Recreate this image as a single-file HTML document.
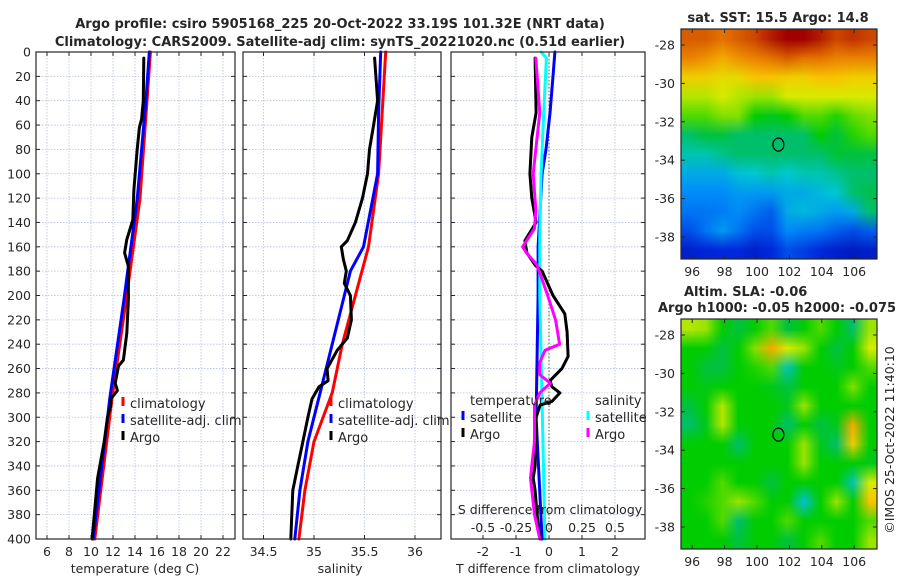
<!DOCTYPE html>
<html><head><meta charset="utf-8"><style>
html,body{margin:0;padding:0;background:#fff;}
#wrap{position:relative;width:900px;height:580px;overflow:hidden;font-family:"DejaVu Sans","Liberation Sans",sans-serif;}
svg{position:absolute;left:0;top:0;}
canvas{position:absolute;}
</style></head><body>
<div id="wrap">
<canvas id="sstMap" width="12" height="12" style="left:681px;top:29px;width:196px;height:230px;"></canvas>
<canvas id="slaMap" width="12" height="12" style="left:681px;top:319px;width:196px;height:230px;"></canvas>
<svg id="fig" width="900" height="580" xmlns="http://www.w3.org/2000/svg"></svg>
</div>
<script>
// ---- data ----
const tClimDepth=[0,39,121,203,285,400];
const tClimVal=[15.4,15.1,14.45,13.2,11.9,10.35];
const tSatDepth=[0,39,121,203,285,400];
const tSatVal=[15.3,15.0,14.2,13.0,11.7,10.2];
const tArgoDepth=[5,40,55,62,80,113,138,154,165,176,203,231,253,258,272,278,285,290,300,320,345,350,380,400];
const tArgoVal=[14.8,14.75,14.6,14.4,14.2,13.9,13.8,13.25,13.05,13.4,13.4,13.25,12.95,12.5,12.2,12.4,11.8,11.8,11.5,11.2,10.7,10.6,10.3,10.1];

const sClimDepth=[0,100,160,200,240,280,320,360,400];
const sClimVal=[35.71,35.64,35.54,35.41,35.28,35.18,35.0,34.91,34.85];
const sSatDepth=[0,50,100,160,180,280,320,360,400];
const sSatVal=[35.66,35.64,35.63,35.49,35.36,35.06,34.94,34.86,34.81];
const sArgoDepth=[5,40,60,80,100,120,140,155,160,170,180,190,200,220,235,245,260,270,275,285,300,320,340,360,380,400];
const sArgoVal=[35.6,35.63,35.59,35.55,35.53,35.48,35.41,35.33,35.27,35.29,35.32,35.3,35.36,35.37,35.33,35.23,35.13,35.14,35.05,34.98,34.94,34.89,34.84,34.79,34.78,34.77];

const dTSatDepth=[0,20,50,80,100,160,200,250,300,350,400];
const dTSatVal=[0.18,0.12,0.03,-0.09,-0.21,-0.33,-0.33,-0.36,-0.39,-0.3,-0.21];
const dSSatDepth=[0,5,50,100,150,200,250,300,350,400];
const dSSatVal=[-0.06,-0.02,-0.04,-0.06,-0.07,-0.07,-0.06,-0.05,-0.04,-0.03];
const dTArgoDepth=[5,50,70,100,120,140,155,165,175,180,200,215,230,250,260,270,275,280,287,290,300,340,350,360,380,400];
const dTArgoVal=[-0.42,-0.39,-0.52,-0.58,-0.52,-0.39,-0.73,-0.67,-0.42,-0.21,0.12,0.48,0.55,0.58,0.39,0.03,0.09,0.33,0.09,-0.27,-0.39,-0.42,-0.48,-0.42,-0.36,-0.27];
const dSArgoDepth=[5,50,80,100,130,145,160,165,175,200,220,240,245,255,265,272,280,290,320,340,350,380,400];
const dSArgoVal=[-0.1,-0.07,-0.1,-0.12,-0.1,-0.11,-0.2,-0.17,-0.09,-0.01,0.05,0.08,-0.03,-0.07,-0.07,0.01,-0.07,-0.11,-0.11,-0.13,-0.14,-0.11,-0.07];

const depthTicks=[0,20,40,60,80,100,120,140,160,180,200,220,240,260,280,300,320,340,360,380,400];
const tTicks=[6,8,10,12,14,16,18,20,22];
const sTicks=[34.5,35,35.5,36];
const dTTicks=[-2,-1,0,1,2];
const dSTicks=[-0.5,-0.25,0,0.25,0.5];
const dSTickLabels=['-0.5','-0.25','0','0.25','0.5'];
const lonTicks=[96,98,100,102,104,106];
const latTicks=[-28,-30,-32,-34,-36,-38];
const argoLon=101.32, argoLat=-33.19;

const sstGrid=[
[0.85,0.85,0.82,0.85,0.88,0.92,0.95,0.95,0.92,0.88,0.9,0.88],
[0.8,0.78,0.75,0.78,0.8,0.82,0.85,0.82,0.82,0.8,0.8,0.8],
[0.7,0.7,0.68,0.68,0.72,0.72,0.7,0.7,0.72,0.72,0.7,0.7],
[0.62,0.62,0.65,0.62,0.6,0.6,0.65,0.65,0.65,0.65,0.65,0.65],
[0.55,0.55,0.58,0.58,0.5,0.48,0.5,0.55,0.55,0.52,0.56,0.58],
[0.42,0.45,0.45,0.42,0.42,0.42,0.42,0.42,0.5,0.45,0.52,0.55],
[0.38,0.38,0.4,0.42,0.42,0.42,0.42,0.42,0.42,0.46,0.45,0.45],
[0.32,0.32,0.32,0.35,0.36,0.38,0.36,0.38,0.38,0.4,0.42,0.42],
[0.28,0.28,0.28,0.3,0.3,0.3,0.32,0.32,0.34,0.36,0.42,0.44],
[0.25,0.25,0.26,0.28,0.25,0.22,0.32,0.34,0.32,0.3,0.32,0.42],
[0.2,0.25,0.3,0.25,0.2,0.2,0.28,0.26,0.25,0.22,0.2,0.22],
[0.12,0.14,0.15,0.15,0.12,0.15,0.2,0.18,0.15,0.12,0.1,0.12]];
const slaGrid=[
[0.62,0.6,0.5,0.45,0.5,0.55,0.45,0.5,0.55,0.5,0.42,0.6],
[0.5,0.5,0.45,0.5,0.58,0.75,0.65,0.6,0.5,0.45,0.5,0.65],
[0.5,0.45,0.45,0.5,0.52,0.55,0.38,0.5,0.5,0.48,0.5,0.55],
[0.5,0.48,0.5,0.5,0.5,0.48,0.45,0.5,0.5,0.5,0.58,0.5],
[0.45,0.5,0.62,0.5,0.5,0.5,0.48,0.6,0.5,0.5,0.5,0.5],
[0.42,0.48,0.62,0.5,0.5,0.5,0.42,0.5,0.45,0.48,0.75,0.5],
[0.5,0.5,0.5,0.42,0.5,0.5,0.5,0.6,0.48,0.42,0.7,0.5],
[0.5,0.5,0.5,0.5,0.5,0.5,0.5,0.6,0.5,0.5,0.5,0.48],
[0.5,0.5,0.55,0.5,0.5,0.45,0.5,0.5,0.5,0.5,0.38,0.65],
[0.5,0.52,0.55,0.6,0.55,0.5,0.5,0.35,0.5,0.6,0.5,0.72],
[0.5,0.5,0.55,0.42,0.5,0.5,0.55,0.5,0.5,0.5,0.5,0.55],
[0.5,0.5,0.5,0.45,0.5,0.5,0.45,0.5,0.55,0.5,0.5,0.6]];

// ---- helpers ----
const NS='http://www.w3.org/2000/svg';
const svg=document.getElementById('fig');
function el(tag,attrs,parent){const e=document.createElementNS(NS,tag);for(const k in attrs)e.setAttribute(k,attrs[k]);(parent||svg).appendChild(e);return e;}
function txt(s,x,y,attrs,name){const t=el('text',Object.assign({x:x,y:y,'font-size':12.5,fill:'#262626'},attrs||{}));t.textContent=s;


return t;}
const Y0=52,Y1=539;
function yD(d){return Y0+d*(Y1-Y0)/400;}

function panel(name,x0,x1,xf,ticks){
  const g=el('g',{});
  
  
  ticks.forEach(v=>{const l=el('line',{x1:xf(v),x2:xf(v),y1:Y0,y2:Y1,stroke:'#b8c0dc','stroke-width':0.8,'stroke-dasharray':'1.5,1.5'},g);
    
    });
  depthTicks.forEach(d=>{const l=el('line',{x1:x0,x2:x1,y1:yD(d),y2:yD(d),stroke:'#b8c0dc','stroke-width':0.8,'stroke-dasharray':'1.5,1.5'},g);
    
    
    el('line',{x1:x0,x2:x0+4,y1:yD(d),y2:yD(d),stroke:'#262626'},g);
    el('line',{x1:x1-4,x2:x1,y1:yD(d),y2:yD(d),stroke:'#262626'},g);});
  ticks.forEach(v=>{el('line',{x1:xf(v),x2:xf(v),y1:Y1-4,y2:Y1,stroke:'#262626'},g);el('line',{x1:xf(v),x2:xf(v),y1:Y0,y2:Y0+4,stroke:'#262626'},g);});
  return g;
}
function frame(name,x0,x1){const r=el('rect',{x:x0,y:Y0,width:x1-x0,height:Y1-Y0,fill:'none',stroke:'#262626','stroke-width':1.2});
  
  }
function series(name,depths,vals,xf,color,w){
  const pts=depths.map((d,i)=>xf(vals[i]).toFixed(1)+','+yD(d).toFixed(1)).join(' ');
  const p=el('polyline',{points:pts,fill:'none',stroke:color,'stroke-width':w||3,'stroke-linejoin':'round','stroke-linecap':'round'});
  
  
}
function legendEntry(name,label,x,y,color){
  const g=el('g',{});
  
  
  el('line',{x1:x,x2:x,y1:y-11,y2:y-2,stroke:color,'stroke-width':3},g);
  const t=el('text',{x:x+7,y:y,'font-size':13,fill:'#262626'},g);t.textContent=label;
}

// ---- panel 1: temperature ----
const xT=v=>47+(v-6)*11;
panel('temperature-panel',36,235,xT,tTicks);
series('temp-climatology-line',tClimDepth,tClimVal,xT,'#ff0000');
series('temp-satellite-line',tSatDepth,tSatVal,xT,'#0000ff');
series('temp-argo-line',tArgoDepth,tArgoVal,xT,'#000000');
frame('temperature-frame',36,235);
depthTicks.forEach(d=>txt(String(d),31,yD(d)+4.5,{'text-anchor':'end'},'depth-tick-label'));
tTicks.forEach(v=>txt(String(v),xT(v),556,{'text-anchor':'middle'},'temp-tick-label'));
txt('temperature (deg C)',135,573,{'text-anchor':'middle'},'temp-axis-title');
legendEntry('legend-climatology','climatology',123,408,'#ff0000');
legendEntry('legend-satellite-adj','satellite-adj. clim',123,425,'#0000ff');
legendEntry('legend-argo','Argo',123,442,'#000000');

// ---- panel 2: salinity ----
const xS=v=>314+(v-35)*101;
panel('salinity-panel',243,441,xS,sTicks);
series('sal-climatology-line',sClimDepth,sClimVal,xS,'#ff0000');
series('sal-satellite-line',sSatDepth,sSatVal,xS,'#0000ff');
series('sal-argo-line',sArgoDepth,sArgoVal,xS,'#000000');
frame('salinity-frame',243,441);
sTicks.forEach(v=>txt(String(v),xS(v),556,{'text-anchor':'middle'},'sal-tick-label'));
txt('salinity',340,573,{'text-anchor':'middle'},'sal-axis-title');
legendEntry('legend-climatology-2','climatology',331,408,'#ff0000');
legendEntry('legend-satellite-adj-2','satellite-adj. clim',331,425,'#0000ff');
legendEntry('legend-argo-2','Argo',331,442,'#000000');

// ---- panel 3: differences ----
const xdT=v=>549+v*33;
const xdS=v=>549+v*132;
panel('difference-panel',451,645,xdT,dTTicks);
const zl=el('line',{x1:xdT(0),x2:xdT(0),y1:Y0,y2:Y1,stroke:'#556b2f','stroke-width':1,'stroke-dasharray':'1.5,2'});


series('dT-satellite-line',dTSatDepth,dTSatVal,xdT,'#0000ff');
series('dS-satellite-line',dSSatDepth,dSSatVal,xdS,'#00ffff');
series('dT-argo-line',dTArgoDepth,dTArgoVal,xdT,'#000000');
series('dS-argo-line',dSArgoDepth,dSArgoVal,xdS,'#ff00ff');
frame('difference-frame',451,645);
dTTicks.forEach(v=>txt(String(v),xdT(v),556,{'text-anchor':'middle'},'dT-tick-label'));
txt('T difference from climatology',548,573,{'text-anchor':'middle'},'dT-axis-title');
dSTicks.forEach((v,i)=>txt(dSTickLabels[i],xdS(v),532,{'text-anchor':'middle'},'dS-tick-label'));
txt('S difference from climatology',550,514,{'text-anchor':'middle'},'dS-axis-title');
txt('temperature',470,405,{'font-size':13},'legend-temperature-header');
txt('salinity',595,405,{'font-size':13},'legend-salinity-header');
legendEntry('legend-dT-satellite','satellite',463,422,'#0000ff');
legendEntry('legend-dT-argo','Argo',463,439,'#000000');
legendEntry('legend-dS-satellite','satellite',588,422,'#00ffff');
legendEntry('legend-dS-argo','Argo',588,439,'#ff00ff');

// ---- titles ----
txt('Argo profile: csiro 5905168_225 20-Oct-2022 33.19S 101.32E (NRT data)',340,28,{'text-anchor':'middle','font-weight':'bold','font-size':13},'title-line-1');
txt('Climatology: CARS2009. Satellite-adj clim: synTS_20221020.nc (0.51d earlier)',340,46,{'text-anchor':'middle','font-weight':'bold','font-size':13},'title-line-2');

// ---- maps ----
const cmapStops=[[0,[0,0,140]],[0.15,[0,40,220]],[0.28,[0,140,250]],[0.36,[0,200,210]],[0.43,[0,190,90]],[0.5,[0,205,0]],[0.58,[130,225,0]],[0.65,[215,235,0]],[0.72,[250,195,0]],[0.8,[235,130,0]],[0.88,[205,70,0]],[0.95,[160,0,0]],[1,[130,0,0]]];
function cmap(v){v=Math.max(0,Math.min(1,v));
  for(let i=1;i<cmapStops.length;i++){if(v<=cmapStops[i][0]){const a=cmapStops[i-1],b=cmapStops[i],t=(v-a[0])/(b[0]-a[0]);
    return a[1].map((c,k)=>Math.round(c+(b[1][k]-c)*t));}}
  return cmapStops[cmapStops.length-1][1];}
function drawGrid(id,grid){const c=document.getElementById(id),ctx=c.getContext('2d');const im=ctx.createImageData(12,12);
  grid.forEach((row,j)=>row.forEach((v,i)=>{const k=(j*12+i)*4,col=cmap(v);im.data[k]=col[0];im.data[k+1]=col[1];im.data[k+2]=col[2];im.data[k+3]=255;}));
  ctx.putImageData(im,0,0);}
drawGrid('sstMap',sstGrid);drawGrid('slaMap',slaGrid);

const lonX=v=>757+(v-100)*16.2;
function mapAxes(name,top,bottom){
  const latY=v=>top+16+(-28-v)*19.2;
  const r=el('rect',{x:681,y:top,width:196,height:bottom-top,fill:'none',stroke:'#262626','stroke-width':1.2});
  
  
  latTicks.forEach(v=>{const y=latY(v);el('line',{x1:681,x2:685,y1:y,y2:y,stroke:'#262626'});el('line',{x1:873,x2:877,y1:y,y2:y,stroke:'#262626'});
    txt(String(v),675,y+4.5,{'text-anchor':'end'},name+'-lat-label');});
  lonTicks.forEach(v=>{const x=lonX(v);el('line',{x1:x,x2:x,y1:bottom-4,y2:bottom,stroke:'#262626'});el('line',{x1:x,x2:x,y1:top,y2:top+4,stroke:'#262626'});
    txt(String(v),x,bottom+17,{'text-anchor':'middle'},name+'-lon-label');});
  const c=el('ellipse',{cx:lonX(argoLon),cy:latY(argoLat),rx:5.5,ry:6.5,fill:'none',stroke:'#000','stroke-width':1.2});
  
  
}
mapAxes('sst-map',29,259);
mapAxes('sla-map',319,549);
txt('sat. SST: 15.5 Argo: 14.8',778,22,{'text-anchor':'middle','font-weight':'bold','font-size':13},'sst-map-title');
txt('Altim. SLA: -0.06',684,296,{'font-weight':'bold','font-size':13},'sla-map-title');
txt('Argo h1000: -0.05 h2000: -0.075',658,312,{'font-weight':'bold','font-size':13},'sla-map-subtitle');
txt('©IMOS 25-Oct-2022 11:40:10',0,0,{'text-anchor':'middle','transform':'translate(894,440) rotate(-90)'},'imos-timestamp');
</script>
</body></html>
